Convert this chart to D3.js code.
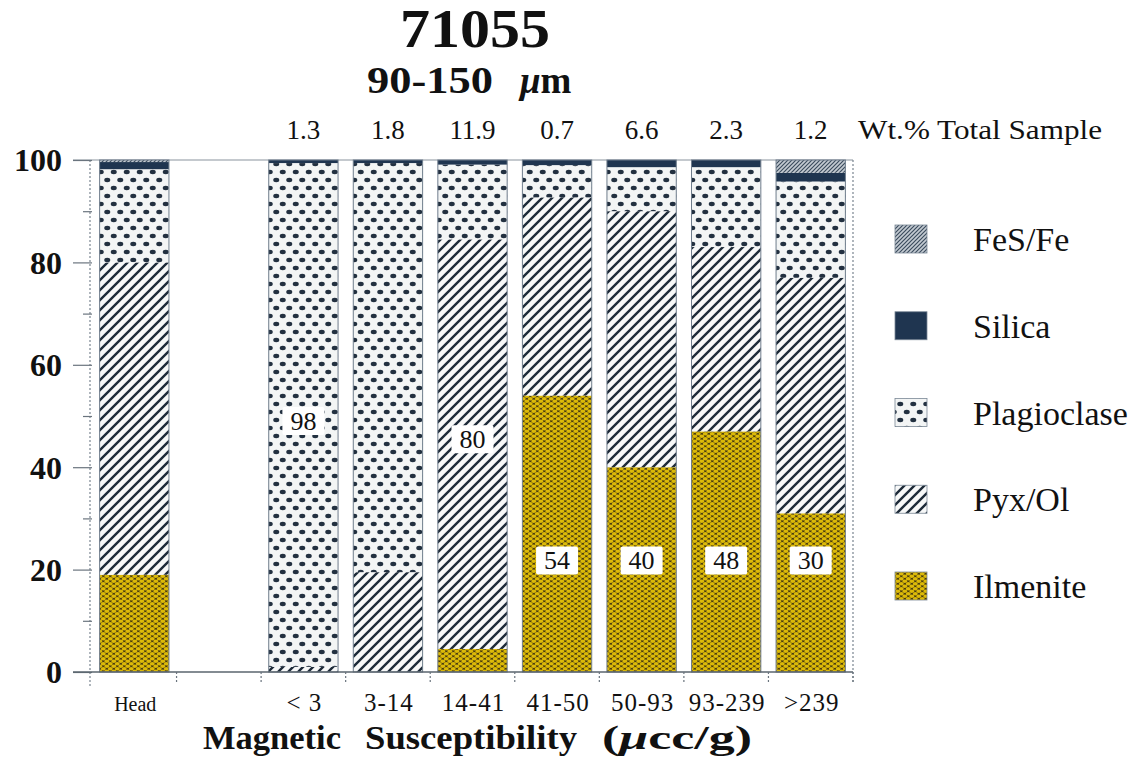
<!DOCTYPE html>
<html><head><meta charset="utf-8">
<script src="https://cdn.jsdelivr.net/npm/d3@7"></script>
<style>
body{margin:0;background:#fff;}
svg{display:block;}
text{font-family:"Liberation Serif","Times New Roman",serif;fill:#111;}
</style></head>
<body><svg id="c" width="1142" height="764"></svg>
<script>
// ---- data ----
const categories = ["Head", "", "< 3", "3-14", "14-41", "41-50", "50-93", "93-239", ">239"];
const layers = ["Ilmenite", "Pyx/Ol", "Plagioclase", "Silica", "FeS/Fe"];
const ilmenite    = [19,   null, 0,    0,    4.5,  54,   40,   47,   31];
const pyxOl       = [61,   null, 1,    19.5, 80,   38.7, 50,   36,   46];
const plagioclase = [18.2, null, 98.4, 79.9, 14.6, 6.3,  8.6,  15.6, 18.8];
const silica      = [1.4,  null, 0.6,  0.6,  0.9,  1.0,  1.4,  1.4,  1.7];
const fesFe       = [0.4,  null, 0,    0,    0,    0,    0,    0,    2.5];
const wtPercent   = [null, null, "1.3", "1.8", "11.9", "0.7", "6.6", "2.3", "1.2"];
const barLabels = [
  {cat: "< 3",    layer: "Plagioclase", text: "98"},
  {cat: "14-41",  layer: "Pyx/Ol",      text: "80"},
  {cat: "41-50",  layer: "Ilmenite",    text: "54"},
  {cat: "50-93",  layer: "Ilmenite",    text: "40"},
  {cat: "93-239", layer: "Ilmenite",    text: "48"},
  {cat: ">239",   layer: "Ilmenite",    text: "30"}
];
const yTicks = [0, 20, 40, 60, 80, 100];
const yMinorTicks = [10, 30, 50, 70, 90];

const series = {"Ilmenite": ilmenite, "Pyx/Ol": pyxOl, "Plagioclase": plagioclase, "Silica": silica, "FeS/Fe": fesFe};
const table = categories.map((c, i) => {
  const o = {cat: c};
  layers.forEach(l => o[l] = series[l][i] || 0);
  return o;
}).filter(d => d.cat !== "");

// ---- drawing ----
const svg = d3.select("#c");
const defs = svg.append("defs");

// Ilmenite pattern
const pIl = defs.append("pattern").attr("id","pIl").attr("patternUnits","userSpaceOnUse").attr("width",7).attr("height",5);
pIl.append("rect").attr("width",7).attr("height",5).attr("fill","#473a10");
[[1.75,1.25],[5.25,3.75],[-1.75,3.75],[8.75,1.25],[1.75,6.25],[5.25,-1.25]].forEach(p =>
  pIl.append("ellipse").attr("cx",p[0]).attr("cy",p[1]).attr("rx",2.4).attr("ry",1.7).attr("fill","#dcba08"));
// Pyx/Ol hatch
const pPx = defs.append("pattern").attr("id","pPx").attr("patternUnits","userSpaceOnUse").attr("width",10).attr("height",10);
pPx.append("rect").attr("width",10).attr("height",10).attr("fill","#f7f8f8");
pPx.append("path").attr("d","M-3,3 L3,-3 M0,10 L10,0 M7,13 L13,7").attr("stroke","#1d2a38").attr("stroke-width",2.4);
// Plagioclase dots
const pPl = defs.append("pattern").attr("id","pPl").attr("patternUnits","userSpaceOnUse").attr("width",13).attr("height",16);
pPl.append("rect").attr("width",13).attr("height",16).attr("fill","#f3f5f5");
[[3.25,4],[9.75,12]].forEach(p =>
  pPl.append("ellipse").attr("cx",p[0]).attr("cy",p[1]).attr("rx",3).attr("ry",2.2).attr("fill","#223040"));
// FeS/Fe fine hatch
const pFe = defs.append("pattern").attr("id","pFe").attr("patternUnits","userSpaceOnUse").attr("width",4).attr("height",4);
pFe.append("rect").attr("width",4).attr("height",4).attr("fill","#c4cbd2");
pFe.append("path").attr("d","M-1,1 L1,-1 M0,4 L4,0 M3,5 L5,3").attr("stroke","#3c4c5e").attr("stroke-width",1.2);

const fills = {"Ilmenite":"url(#pIl)","Pyx/Ol":"url(#pPx)","Plagioclase":"url(#pPl)","Silica":"#1f3550","FeS/Fe":"url(#pFe)"};

const x0 = 92, x1 = 853, yTop = 160, yBot = 672;
const x = d3.scaleBand().domain(categories).range([x0, x1]).paddingInner(0.18).paddingOuter(0.09);
const y = d3.scaleLinear().domain([0, 100]).range([yBot, yTop]);

// frame
svg.append("line").attr("x1",73).attr("x2",x1).attr("y1",yTop).attr("y2",yTop).attr("stroke","#8a949e").attr("stroke-width",1.2);
svg.append("line").attr("x1",x0-2).attr("x2",x0-2).attr("y1",yTop).attr("y2",688).attr("stroke","#7a8590").attr("stroke-width",1.2).attr("stroke-dasharray","2,2");
svg.append("line").attr("x1",x1).attr("x2",x1).attr("y1",yTop).attr("y2",684).attr("stroke","#7a8590").attr("stroke-width",1.2).attr("stroke-dasharray","2,2");

// stacked bars
const stack = d3.stack().keys(layers)(table);
const g = svg.append("g");
stack.forEach(s => {
  g.selectAll(null).data(s.filter(d => d[1] - d[0] > 0)).enter().append("rect")
    .attr("x", d => x(d.data.cat))
    .attr("width", x.bandwidth())
    .attr("y", d => y(d[1]))
    .attr("height", d => y(d[0]) - y(d[1]))
    .attr("fill", fills[s.key]);
});
// bar outlines
g.selectAll(null).data(table).enter().append("rect")
  .attr("x", d => x(d.cat)).attr("width", x.bandwidth())
  .attr("y", d => y(d3.sum(layers, l => d[l]))).attr("height", d => yBot - y(d3.sum(layers, l => d[l])))
  .attr("fill","none").attr("stroke","#6f7d8c").attr("stroke-width",1);

// y axis
const yAxis = svg.append("g").attr("transform",`translate(${x0},0)`)
  .call(d3.axisLeft(y).tickValues(yTicks).tickSize(19).tickFormat(d3.format("d")));
yAxis.select(".domain").remove();
yAxis.selectAll(".tick line").attr("stroke","#6a747e").attr("stroke-width",1.2);
yAxis.selectAll(".tick text").attr("font-family","Liberation Serif").attr("font-weight","bold")
  .attr("font-size",32).attr("fill","#111").attr("x",-30).attr("dy","0.34em");
const yMinor = svg.append("g").attr("transform",`translate(${x0},0)`)
  .call(d3.axisLeft(y).tickValues(yMinorTicks).tickSize(9).tickFormat(""));
yMinor.select(".domain").remove();
yMinor.selectAll(".tick line").attr("stroke","#6a747e").attr("stroke-width",1.2);

// x axis
svg.append("line").attr("x1",73).attr("x2",x1).attr("y1",yBot).attr("y2",yBot).attr("stroke","#5a646e").attr("stroke-width",1.4);
const bounds = d3.range(1, categories.length + 1).map(i => x0 + i * x.step());
svg.selectAll(null).data(bounds).enter().append("line")
  .attr("x1", d => d).attr("x2", d => d).attr("y1", yBot).attr("y2", yBot + 12)
  .attr("stroke","#6a747e").attr("stroke-width",1.2).attr("stroke-dasharray","2,2");
svg.selectAll(null).data(categories.filter(c => c !== "")).enter().append("text")
  .attr("x", d => x(d) + x.bandwidth() / 2 + 1)
  .attr("y", 711)
  .attr("text-anchor","middle")
  .attr("font-size", d => d === "Head" ? 20 : 25)
  .attr("letter-spacing", d => d === "Head" ? 0 : 1)
  .text(d => d);

// wt% labels
svg.selectAll(null).data(categories.map((c, i) => ({c, w: wtPercent[i]})).filter(d => d.w)).enter().append("text")
  .attr("x", d => x(d.c) + x.bandwidth() / 2)
  .attr("y", 139).attr("text-anchor","middle").attr("font-size",27).text(d => d.w);
svg.append("text").attr("x",858).attr("y",139).attr("font-size",27)
  .attr("textLength",244).attr("lengthAdjust","spacingAndGlyphs").text("Wt.% Total Sample");

// bar value labels
const lbl = svg.append("g");
barLabels.forEach(b => {
  const d = table.find(t => t.cat === b.cat);
  const li = layers.indexOf(b.layer);
  const lo = d3.sum(layers.slice(0, li), l => d[l]);
  const hi = lo + d[b.layer];
  const cy = b.layer === "Ilmenite" ? y(21.8) : y((lo + hi) / 2) + (b.layer === "Plagioclase" ? 6 : -5);
  const cx = x(b.cat) + x.bandwidth() / 2;
  lbl.append("rect").attr("x", cx - 21).attr("y", cy - 14).attr("width", 42).attr("height", 28)
    .attr("rx", 2).attr("fill", "#ffffff");
  lbl.append("text").attr("x", cx).attr("y", cy + 9).attr("text-anchor","middle")
    .attr("font-family","Liberation Sans, Arial, sans-serif").attr("font-size",26).attr("fill","#1a1a1a")
    .text(b.text);
});

// titles
svg.append("text").attr("x",400).attr("y",47).attr("font-size",54).attr("font-weight","bold")
  .attr("textLength",150).attr("lengthAdjust","spacingAndGlyphs").text("71055");
const st = svg.append("text").attr("x",367).attr("y",93).attr("font-size",37).attr("font-weight","bold");
st.append("tspan").attr("textLength",126).attr("lengthAdjust","spacingAndGlyphs").text("90-150");
st.append("tspan").attr("x",520).attr("font-style","italic").text("μ");
st.append("tspan").attr("font-weight","bold").text("m");

svg.append("text").attr("x",203).attr("y",749).attr("font-size",34).attr("font-weight","bold")
  .attr("textLength",138).attr("lengthAdjust","spacingAndGlyphs").text("Magnetic");
svg.append("text").attr("x",365).attr("y",749).attr("font-size",34).attr("font-weight","bold")
  .attr("textLength",212).attr("lengthAdjust","spacingAndGlyphs").text("Susceptibility");
const un = svg.append("text").attr("x",602).attr("y",749).attr("font-size",34).attr("font-weight","bold")
  .attr("textLength",150).attr("lengthAdjust","spacingAndGlyphs");
un.append("tspan").text("(");
un.append("tspan").attr("font-style","italic").text("μ");
un.append("tspan").text("cc/g)");

// legend
const legendOrder = ["FeS/Fe", "Silica", "Plagioclase", "Pyx/Ol", "Ilmenite"];
const ly = d3.scalePoint().domain(legendOrder).range([239, 586]);
const lg = svg.append("g");
lg.selectAll(null).data(legendOrder).enter().append("rect")
  .attr("x",895).attr("y", d => ly(d) - 14).attr("width",32).attr("height",28)
  .attr("fill", d => fills[d]).attr("stroke","#7a8896").attr("stroke-width",0.8);
lg.selectAll(null).data(legendOrder).enter().append("text")
  .attr("x",973).attr("y", d => ly(d) + 12).attr("font-size",34).text(d => d);
</script></body></html>
